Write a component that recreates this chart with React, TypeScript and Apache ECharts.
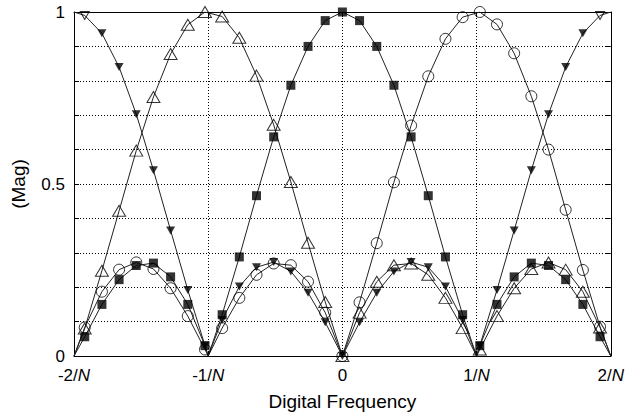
import React, { useEffect, useRef } from 'react';
import * as echarts from 'echarts';

// Frequency grid (units of 1/N) at which the markers sit
const xGrid = [
  -1.92, -1.792, -1.664, -1.536, -1.408, -1.28, -1.152, -1.024, -0.896, -0.768, -0.64, -0.512, -0.384, -0.256, -0.128,
  0,
  0.128, 0.256, 0.384, 0.512, 0.64, 0.768, 0.896, 1.024, 1.152, 1.28, 1.408, 1.536, 1.664, 1.792, 1.92,
];

// Magnitudes
const squareMag = [
  0.056, 0.15, 0.222, 0.263, 0.27, 0.23, 0.15, 0.03, 0.12, 0.288, 0.466, 0.637, 0.787, 0.9, 0.975,
  1.0,
  0.975, 0.9, 0.787, 0.637, 0.466, 0.288, 0.12, 0.03, 0.15, 0.23, 0.27, 0.263, 0.222, 0.15, 0.056,
];
const circleMag = [
  0.083, 0.187, 0.251, 0.272, 0.253, 0.197, 0.116, 0.019, 0.081, 0.169, 0.236, 0.269, 0.264, 0.216, 0.126,
  0.0,
  0.156, 0.328, 0.505, 0.67, 0.813, 0.922, 0.985, 1.0, 0.964, 0.88, 0.755, 0.6, 0.425, 0.25, 0.085,
];
const triUpMag = [
  0.08, 0.248, 0.422, 0.597, 0.753, 0.878, 0.963, 1.0, 0.987, 0.925, 0.815, 0.672, 0.506, 0.329, 0.157,
  0.0,
  0.126, 0.216, 0.264, 0.269, 0.236, 0.169, 0.081, 0.019, 0.116, 0.197, 0.253, 0.272, 0.251, 0.187, 0.083,
];
const triDownMag = [
  0.99, 0.938, 0.84, 0.703, 0.54, 0.365, 0.192, 0.03, 0.105, 0.202, 0.258, 0.273, 0.246, 0.184, 0.098,
  0.0,
  0.098, 0.184, 0.246, 0.273, 0.258, 0.202, 0.105, 0.03, 0.192, 0.365, 0.54, 0.703, 0.84, 0.938, 0.99,
];
// Triangle-down markers that appear hollow in the picture (at the top corners)
const triDownHollow = [0, 30];

// Points where each curve touches zero (cusps) or meets the frame
const squareCusps = [[-2, 0], [-1, 0], [1, 0], [2, 0]];
const circleCusps = [[-2, 0], [-1, 0], [2, 0]];
const triUpCusps = [[-2, 0], [1, 0], [2, 0]];
const triDownEnds = [[-2, 1], [-1, 0], [1, 0], [2, 1]];

// Tick labels
const xTickValues = [-2, -1, 0, 1, 2];
const xTickLabels = ['-2/N', '-1/N', '0', '1/N', '2/N'];
const yTickValues = [0, 0.5, 1];
const yTickLabels = ['0', '0.5', '1'];

const FONT = 'Liberation Sans, Arial, Helvetica, sans-serif';

function markerPts(mag: number[]) {
  return xGrid.map((x, i) => [x, mag[i]]);
}
function linePts(mag: number[], extra: number[][]) {
  return [...markerPts(mag), ...extra].sort((a, b) => a[0] - b[0]);
}

const hollowStyle = { color: 'rgba(0,0,0,0)', borderColor: '#000', borderWidth: 1 };
const filledStyle = { color: '#000', borderColor: '#000', borderWidth: 0 };

export default function App() {
  const ref = useRef<HTMLDivElement>(null);
  useEffect(() => {
    if (!ref.current) return;
    const chart = echarts.init(ref.current, undefined, { renderer: 'svg' });
    const lineStyle = { color: '#222', width: 1 };
    const dotted = { type: [1, 2] as any, color: '#000', width: 1 };
    const curve = (mag: number[], extra: number[][]) => ({
      type: 'line',
      data: linePts(mag, extra),
      showSymbol: false,
      symbol: 'none',
      lineStyle,
      silent: true,
      z: 2,
    });
    const marks = (mag: number[], symbol: string, size: any, filled: boolean, rotate = 0, hollowIdx: number[] = []) => ({
      type: 'scatter',
      data: markerPts(mag).map((p, i) =>
        hollowIdx.includes(i) ? { value: p, itemStyle: hollowStyle } : p
      ),
      symbol,
      symbolSize: size,
      symbolRotate: rotate,
      itemStyle: filled ? filledStyle : hollowStyle,
      z: 3,
    });
    const baseAxisLine = { show: true, onZero: false, lineStyle: { color: '#000', width: 1 } };
    const tick = { show: true, inside: true, length: 5, lineStyle: { color: '#000' } };
    chart.setOption({
      animation: false,
      backgroundColor: '#fff',
      grid: { left: 74, right: 15, top: 12, bottom: 57, containLabel: false },
      xAxis: [
        {
          type: 'value',
          min: -2,
          max: 2,
          interval: 1,
          position: 'bottom',
          axisLine: baseAxisLine,
          axisTick: tick,
          axisLabel: {
            color: '#000',
            fontSize: 17,
            fontFamily: FONT,
            margin: 11,
            formatter: (v: number) => {
              const i = xTickValues.findIndex((t) => Math.abs(t - v) < 1e-6);
              if (i < 0) return '';
              return xTickLabels[i].replace('N', '{i|N}');
            },
            rich: { i: { fontStyle: 'italic', fontSize: 17, fontFamily: FONT, color: '#000' } },
          },
          splitLine: { show: true, lineStyle: dotted },
          name: 'Digital Frequency',
          nameLocation: 'middle',
          nameGap: 36,
          nameTextStyle: { color: '#000', fontSize: 19, fontFamily: FONT },
        },
        {
          type: 'value',
          min: -2,
          max: 2,
          interval: 1,
          position: 'top',
          axisLine: baseAxisLine,
          axisTick: tick,
          axisLabel: { show: false },
          splitLine: { show: false },
        },
      ],
      yAxis: [
        {
          type: 'value',
          min: 0,
          max: 1,
          interval: 0.1,
          position: 'left',
          axisLine: baseAxisLine,
          axisTick: tick,
          axisLabel: {
            color: '#000',
            fontSize: 17,
            fontFamily: FONT,
            margin: 9,
            formatter: (v: number) => {
              const i = yTickValues.findIndex((t) => Math.abs(t - v) < 1e-6);
              return i >= 0 ? yTickLabels[i] : '';
            },
          },
          splitLine: { show: true, lineStyle: dotted },
          name: '(Mag)',
          nameLocation: 'middle',
          nameGap: 46,
          nameTextStyle: { color: '#000', fontSize: 19, fontFamily: FONT },
        },
        {
          type: 'value',
          min: 0,
          max: 1,
          interval: 0.1,
          position: 'right',
          axisLine: baseAxisLine,
          axisTick: tick,
          axisLabel: { show: false },
          splitLine: { show: false },
        },
      ],
      series: [
        curve(triDownMag, triDownEnds),
        curve(triUpMag, triUpCusps),
        curve(circleMag, circleCusps),
        curve(squareMag, squareCusps),
        marks(triDownMag, 'triangle', [9, 8], true, 180, triDownHollow),
        marks(triUpMag, 'triangle', [13, 11], false),
        marks(circleMag, 'circle', 11, false),
        marks(squareMag, 'rect', 9, true),
      ],
    });
    return () => chart.dispose();
  }, []);
  return (
    <div
      ref={ref}
      style={{ position: 'fixed', left: 0, top: 0, width: 627, height: 416, background: '#fff' }}
    />
  );
}
